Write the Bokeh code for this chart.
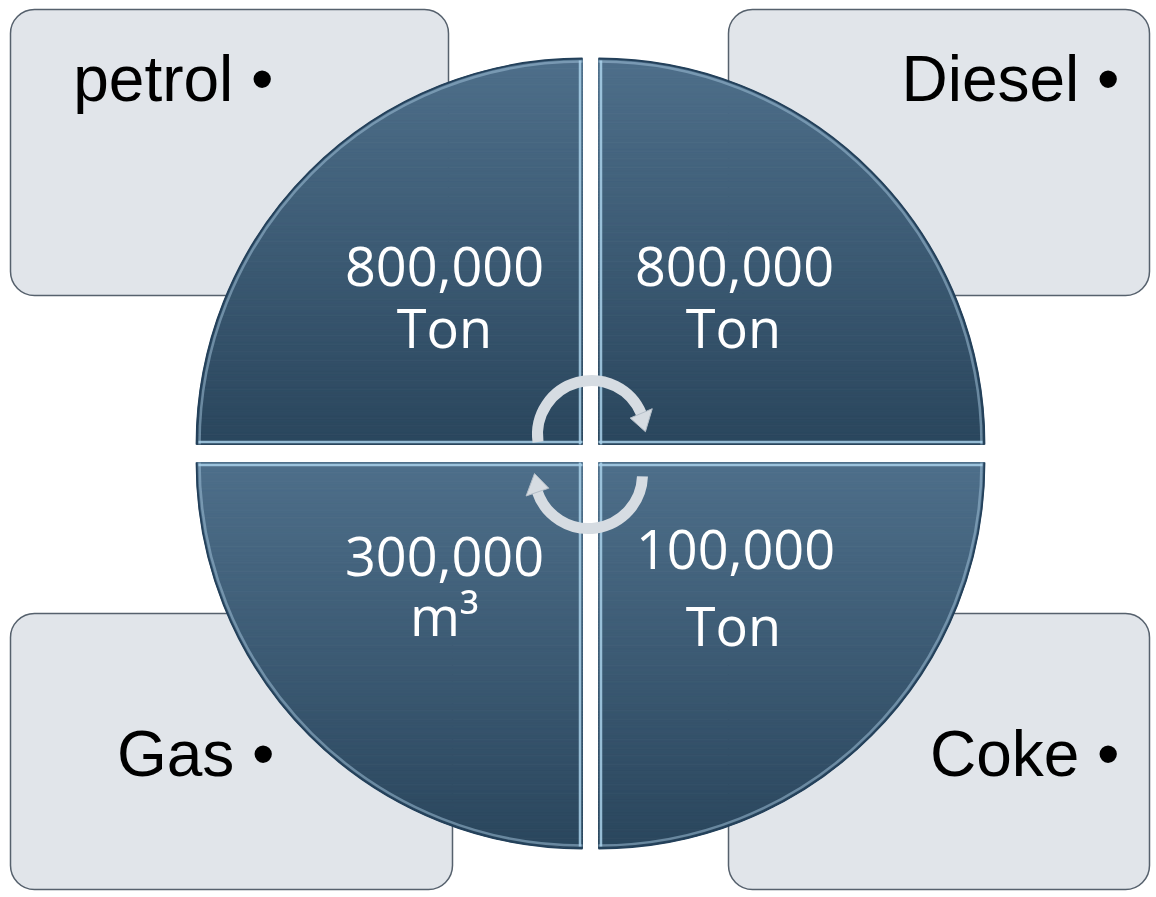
import numpy as np
from bokeh.plotting import figure
from bokeh.models import Range1d
from bokeh.core.properties import value
from bokeh.embed import file_html
from bokeh.resources import INLINE

# ---- data ----
categories = ["petrol", "Diesel", "Gas", "Coke"]
amounts = [800000, 800000, 300000, 100000]
units = ["Ton", "Ton", "m³", "Ton"]

# ---- layout (image pixel coordinates, y measured from top) ----
H = 897
W_FIG, H_FIG = 1152, 893


def Y(v):
    return H - v


p = figure(width=W_FIG, height=H_FIG, x_range=Range1d(0, W_FIG), y_range=Range1d(H - H_FIG, H),
           output_backend="svg", toolbar_location=None, min_border=0)
p.axis.visible = False
p.grid.visible = False
p.outline_line_color = None
p.background_fill_color = "white"
p.border_fill_color = "white"

# label boxes
box_l = [10, 728, 10, 728]
box_r = [448, 1149, 452, 1149]
box_t = [9, 9, 613, 613]
box_b = [295, 295, 889, 889]
p.quad(left=box_l, right=box_r, top=[Y(v) for v in box_t], bottom=[Y(v) for v in box_b],
       fill_color="#E1E5EA", line_color="#56616D", line_width=1.5, border_radius=24)

# quarter discs with vertical gradient
R = 386
corners = [(582, 444, -1, 1), (598, 444, 1, 1), (582, 462, -1, -1), (598, 462, 1, -1)]
light = np.array([78, 111, 138])
dark = np.array([42, 70, 93])
N = 120
xs, ys, cols = [], [], []
for (cx, cyi, sx, sy) in corners:
    cy = Y(cyi)
    for k in range(N):
        t0 = R * k / N
        t1 = R * (k + 1) / N
        w0 = np.sqrt(max(R * R - t0 * t0, 0.0))
        w1 = np.sqrt(max(R * R - t1 * t1, 0.0))
        xs.append([cx, cx + sx * w0, cx + sx * w1, cx])
        ys.append([cy + sy * t0, cy + sy * t0, cy + sy * t1, cy + sy * t1])
        tm = (t0 + t1) / 2 / R
        f = 1 - tm if sy > 0 else tm
        c = light + (dark - light) * f
        cols.append("#%02x%02x%02x" % tuple(int(round(v)) for v in c))
p.patches(xs=xs, ys=ys, fill_color=cols, line_color=cols, line_width=1)

# edges of quarter discs
arc_x, arc_y, a0, a1 = [], [], [], []
lx, ly = [], []
for (cx, cyi, sx, sy) in corners:
    cy = Y(cyi)
    arc_x.append(cx)
    arc_y.append(cy)
    if sx < 0 and sy > 0:
        s, e = 90, 180
    elif sx > 0 and sy > 0:
        s, e = 0, 90
    elif sx < 0 and sy < 0:
        s, e = 180, 270
    else:
        s, e = 270, 360
    a0.append(np.radians(s))
    a1.append(np.radians(e))
    lx.append([cx + sx * 2.5, cx + sx * 2.5])
    ly.append([cy, cy + sy * (R - 2)])
    lx.append([cx, cx + sx * (R - 2)])
    ly.append([cy + sy * 2.5, cy + sy * 2.5])
p.arc(x=arc_x, y=arc_y, radius=R - 3, start_angle=a0, end_angle=a1,
      line_color="#9cbdd6", line_alpha=0.55, line_width=2.5)
p.arc(x=arc_x, y=arc_y, radius=R, start_angle=a0, end_angle=a1,
      line_color="#23405a", line_width=1.8)
p.multi_line(xs=lx, ys=ly, line_color="#a9d1ea", line_alpha=0.85, line_width=2.5)

# circular arrows in the centre
arrow_cx = [591, 588]
arrow_cy = [Y(434), Y(474)]
arrow_r = 54
arrow_start = [np.radians(22), np.radians(198)]
arrow_end = [np.radians(188), np.radians(358)]
p.arc(x=arrow_cx, y=arrow_cy, radius=arrow_r, start_angle=arrow_start, end_angle=arrow_end,
      line_color="#d6dce2", line_width=11)
hx, hy = [], []
for cx, cy, base in zip(arrow_cx, arrow_cy, [22, 198]):
    b = np.radians(base + 1)
    t = np.radians(base - 19)
    hx.append([cx + (arrow_r + 12) * np.cos(b), cx + arrow_r * np.cos(t), cx + (arrow_r - 12) * np.cos(b)])
    hy.append([cy + (arrow_r + 12) * np.sin(b), cy + arrow_r * np.sin(t), cy + (arrow_r - 12) * np.sin(b)])
p.patches(xs=hx, ys=hy, fill_color="#d6dce2", line_color="#b4bec8", line_width=1)

# value labels
val_x = [444, 734, 444, 735]
val_y = [266, 266, 556, 549]
unit_x = [444, 733, 444, 733]
unit_y = [326, 326, 614, 624]
p.text(x=val_x, y=[Y(v) for v in val_y], text=[f"{a:,}" for a in amounts],
       text_font=value("Open Sans"), text_font_size=value("54px"), text_color="white",
       text_align="center", text_baseline="alphabetic")
p.text(x=unit_x, y=[Y(v) for v in unit_y], text=units,
       text_font=value("Open Sans"), text_font_size=value("54px"), text_color="white",
       text_align="center", text_baseline="alphabetic")

# category labels
lab_x = [273, 1119, 274, 1119]
lab_y = [78, 78, 753, 753]
p.text(x=lab_x, y=[Y(v) for v in lab_y], text=[c + " •" for c in categories],
       text_font=value("Liberation Sans"), text_font_size=value("64px"), text_color="black",
       text_align="right", text_baseline="alphabetic")

open("out.html", "w").write(file_html(p, INLINE))
